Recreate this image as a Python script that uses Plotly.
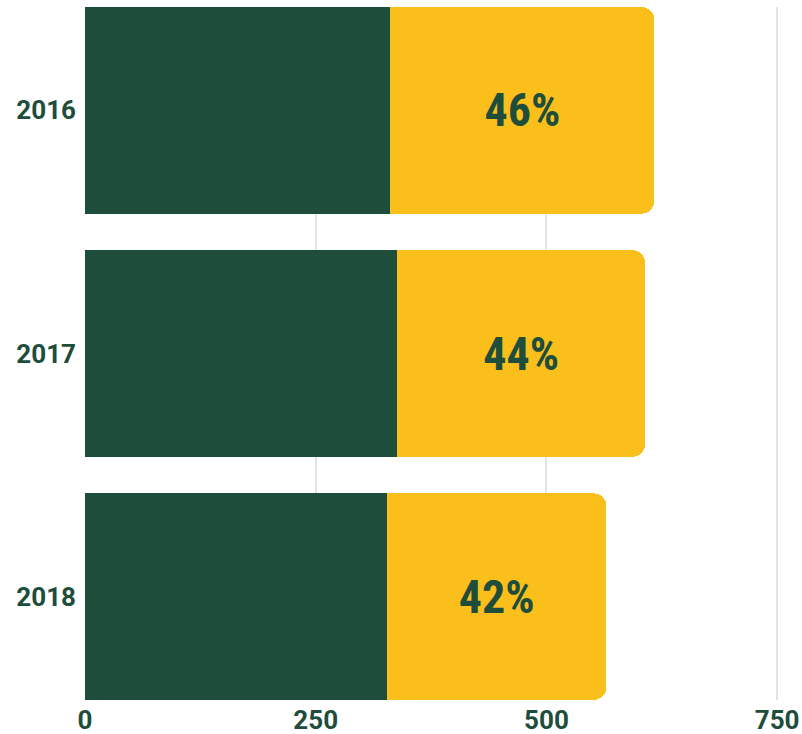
import plotly.graph_objects as go

years = ["2016", "2017", "2018"]
green_vals = [331, 338, 327]
yellow_vals = [286, 269, 238]
pct_labels = ["46%", "44%", "42%"]
x_ticks = [0, 250, 500, 750]

GREEN = "#1e4d3b"
YELLOW = "#fbbf1c"

fig = go.Figure()
fig.add_trace(go.Bar(
    y=years, x=green_vals, orientation="h",
    marker=dict(color=GREEN, line=dict(width=0)),
    hoverinfo="skip",
))
fig.add_trace(go.Bar(
    y=years, x=yellow_vals, orientation="h",
    marker=dict(color=YELLOW, line=dict(width=0)),
    text=pct_labels, textposition="inside", insidetextanchor="middle",
    textfont=dict(family="Roboto Condensed, Liberation Sans Narrow, DejaVu Sans Condensed, Arial Narrow, sans-serif",
                  size=46, color=GREEN, weight="bold"),
    textangle=0,
    hoverinfo="skip",
))

fig.update_layout(
    barmode="stack",
    bargap=0.15,
    barcornerradius=13,
    width=802, height=734,
    margin=dict(l=85, r=23, t=7, b=34, autoexpand=False),
    plot_bgcolor="white", paper_bgcolor="white",
    showlegend=False,
    uniformtext=dict(mode=False),
    xaxis=dict(
        range=[0, 752], tickvals=x_ticks,
        showgrid=True, gridcolor="#e3e3e3", gridwidth=2,
        zeroline=False, showline=False, automargin=False,
        tickfont=dict(family="Roboto", size=26, color=GREEN, weight="bold"),
        ticks="", ticklabelstandoff=2,
    ),
    yaxis=dict(
        categoryorder="array", categoryarray=years,
        autorange=False, range=[2.425, -0.425],
        showgrid=False, zeroline=False, showline=False, automargin=False,
        tickfont=dict(family="Roboto", size=26, color=GREEN, weight="bold"),
        ticks="", ticklabelstandoff=8,
    ),
)

fig.write_html("out.html")
